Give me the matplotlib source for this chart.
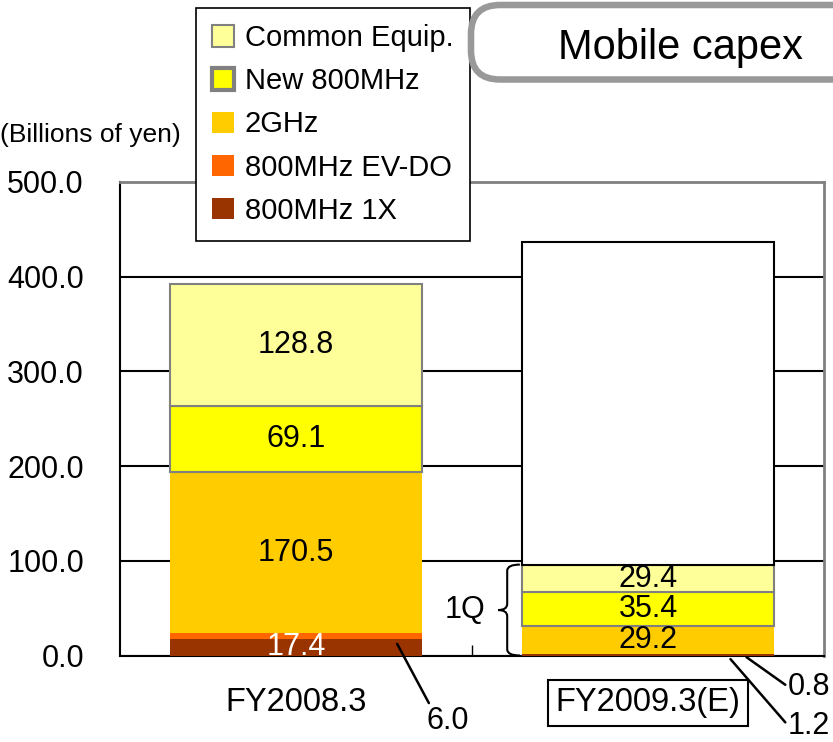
import numpy as np
import matplotlib
matplotlib.use("Agg")
import matplotlib.pyplot as plt
from matplotlib.patches import Patch, FancyBboxPatch, PathPatch
from matplotlib.path import Path
from matplotlib import font_manager

plt.rcParams['font.family'] = ['Liberation Sans', 'DejaVu Sans']

# ---- data ----
categories = ['FY2008.3', 'FY2009.3(E)']
series_names = ['800MHz 1X', '800MHz EV-DO', '2GHz', 'New 800MHz', 'Common Equip.']
fy2008 = [17.4, 6.0, 170.5, 69.1, 128.8]
fy2009_1q = [1.2, 0.8, 29.2, 35.4, 29.4]
fy2009_total = 437.0
yticks = [0, 100, 200, 300, 400, 500]

# ---- styles ----
colors = ['#993300', '#FF6600', '#FFCC00', '#FFFF00', '#FFFF99']
edgecolors = ['none', 'none', 'none', '#808080', '#808080']
edgewidths = [0, 0, 0, 1.5, 1.5]
label_colors = ['white', 'black', 'black', 'black', 'black']
# which segments carry an inside value label (per bar)
show_label = [[True, False], [False, False], [True, True], [True, True], [True, True]]

W, H = 833, 742
fig = plt.figure(figsize=(W / 100, H / 100), dpi=100)
ax = fig.add_axes([120 / W, 1 - 655.5 / H, 704 / W, 473.5 / H])

x = np.arange(len(categories))
width = 0.716
bottom = np.zeros(len(categories))
for i, name in enumerate(series_names):
    vals = np.array([fy2008[i], fy2009_1q[i]])
    cont = ax.bar(x, vals, width, bottom=bottom, color=colors[i],
                  edgecolor=edgecolors[i], linewidth=edgewidths[i], zorder=3)
    labels = [f'{v:.1f}' if show_label[i][j] else '' for j, v in enumerate(vals)]
    ax.bar_label(cont, labels=labels, label_type='center', fontsize=22,
                 color=label_colors[i], zorder=4)
    bottom += vals

# remaining full-year forecast above 1Q actuals
q1_sum = sum(fy2009_1q)
ax.bar(x[1], fy2009_total - q1_sum, width, bottom=q1_sum, color='white',
       edgecolor='black', linewidth=1.5, zorder=3)

ax.set_xlim(-0.5, 1.5)
ax.set_ylim(0, 500)
ax.set_yticks(yticks)
ax.set_yticklabels([f'{v:.1f}' for v in yticks])
ax.tick_params(axis='y', length=0, pad=26, labelsize=22)
ax.set_xticks(x)
ax.set_xticklabels(categories)
ax.tick_params(axis='x', which='major', length=0, pad=23, labelsize=23.5)
ax.set_xticks([0.5], minor=True)
ax.tick_params(axis='x', which='minor', direction='in', length=8, width=1, color='black')
ax.get_xticklabels()[1].set_bbox(dict(boxstyle='square,pad=0.22', facecolor='white',
                                      edgecolor='black', linewidth=1.5))

ax.yaxis.grid(True, color='black', linewidth=1.5)
ax.set_axisbelow(True)
for s in ['left', 'bottom']:
    ax.spines[s].set_color('black')
    ax.spines[s].set_linewidth(1.5)
for s in ['top', 'right']:
    ax.spines[s].set_color('#808080')
    ax.spines[s].set_linewidth(2)

# callouts for the thin segments
ann = dict(arrowstyle='-', color='black', lw=1.8, shrinkA=0, shrinkB=4)
ax.annotate(f'{fy2008[1]:.1f}', xy=(x[0] + 0.28, fy2008[0]), xytext=(0.43, -69),
            ha='center', va='center', fontsize=22, annotation_clip=False,
            arrowprops=dict(ann, relpos=(0.1, 1.0)))
ax.annotate(f'{fy2009_1q[1]:.1f}', xy=(x[1] + 0.267, fy2009_1q[0] + fy2009_1q[1] / 2),
            xytext=(1.398, -33), ha='left', va='center', fontsize=22,
            annotation_clip=False, arrowprops=dict(ann, relpos=(0.0, 0.5)))
ax.annotate(f'{fy2009_1q[0]:.1f}', xy=(x[1] + 0.224, fy2009_1q[0] / 2),
            xytext=(1.398, -74), ha='left', va='center', fontsize=22,
            annotation_clip=False, arrowprops=dict(ann, relpos=(0.0, 0.5)))

# brace marking the 1Q portion
y0, y1 = 0.0, q1_sum
ym = (y0 + y1) / 2
xe, xs, xt = 0.636, 0.600, 0.574
r = 6.5
verts = [(xe, y1), (xs, y1), (xs, y1 - r), (xs, ym + r), (xs, ym), (xt, ym),
         (xs, ym), (xs, ym - r), (xs, y0 + r), (xs, y0), (xe, y0)]
codes = [Path.MOVETO, Path.CURVE3, Path.CURVE3, Path.LINETO, Path.CURVE3, Path.CURVE3,
         Path.CURVE3, Path.CURVE3, Path.LINETO, Path.CURVE3, Path.CURVE3]
ax.add_patch(PathPatch(Path(verts, codes), facecolor='none', edgecolor='black',
                       lw=1.5, clip_on=False, zorder=5))
ax.text(0.48, ym, '1Q', ha='center', va='center', fontsize=22)

# legend
handles = [Patch(facecolor=colors[i], edgecolor=edgecolors[i],
                 linewidth=edgewidths[i] * (2 if i == 3 else 1),
                 label=series_names[i]) for i in range(len(series_names) - 1, -1, -1)]
leg = ax.legend(handles=handles, loc='upper left', bbox_to_anchor=(196 / W, 1 - 8 / H),
                bbox_transform=fig.transFigure, borderaxespad=0, fontsize=21,
                frameon=True, fancybox=False, framealpha=1, edgecolor='black',
                handlelength=0.75, handleheight=0.75, handletextpad=0.38,
                labelspacing=0.52, borderpad=0.55)
leg.get_frame().set_linewidth(1.2)

# unit label
names = {f.name for f in font_manager.fontManager.ttflist}
if 'Liberation Sans Narrow' in names:
    fig.text(0, 1 - 141.7 / H, '(Billions of yen)', family='Liberation Sans Narrow',
             fontsize=21, ha='left', va='baseline')
else:
    fig.text(0, 1 - 141.7 / H, '(Billions of yen)', fontsize=19, ha='left', va='baseline')

# title banner
banner = FancyBboxPatch((4.71, (H - 79.5) / 100), 5.0, 0.745,
                        boxstyle='round,pad=0,rounding_size=0.29',
                        transform=fig.dpi_scale_trans, facecolor='white',
                        edgecolor='#999999', linewidth=4.7)
fig.add_artist(banner)
fig.text(680 / W, 1 - 59.3 / H, 'Mobile capex', fontsize=30, ha='center', va='baseline')

fig.savefig('out.png', dpi=100)
